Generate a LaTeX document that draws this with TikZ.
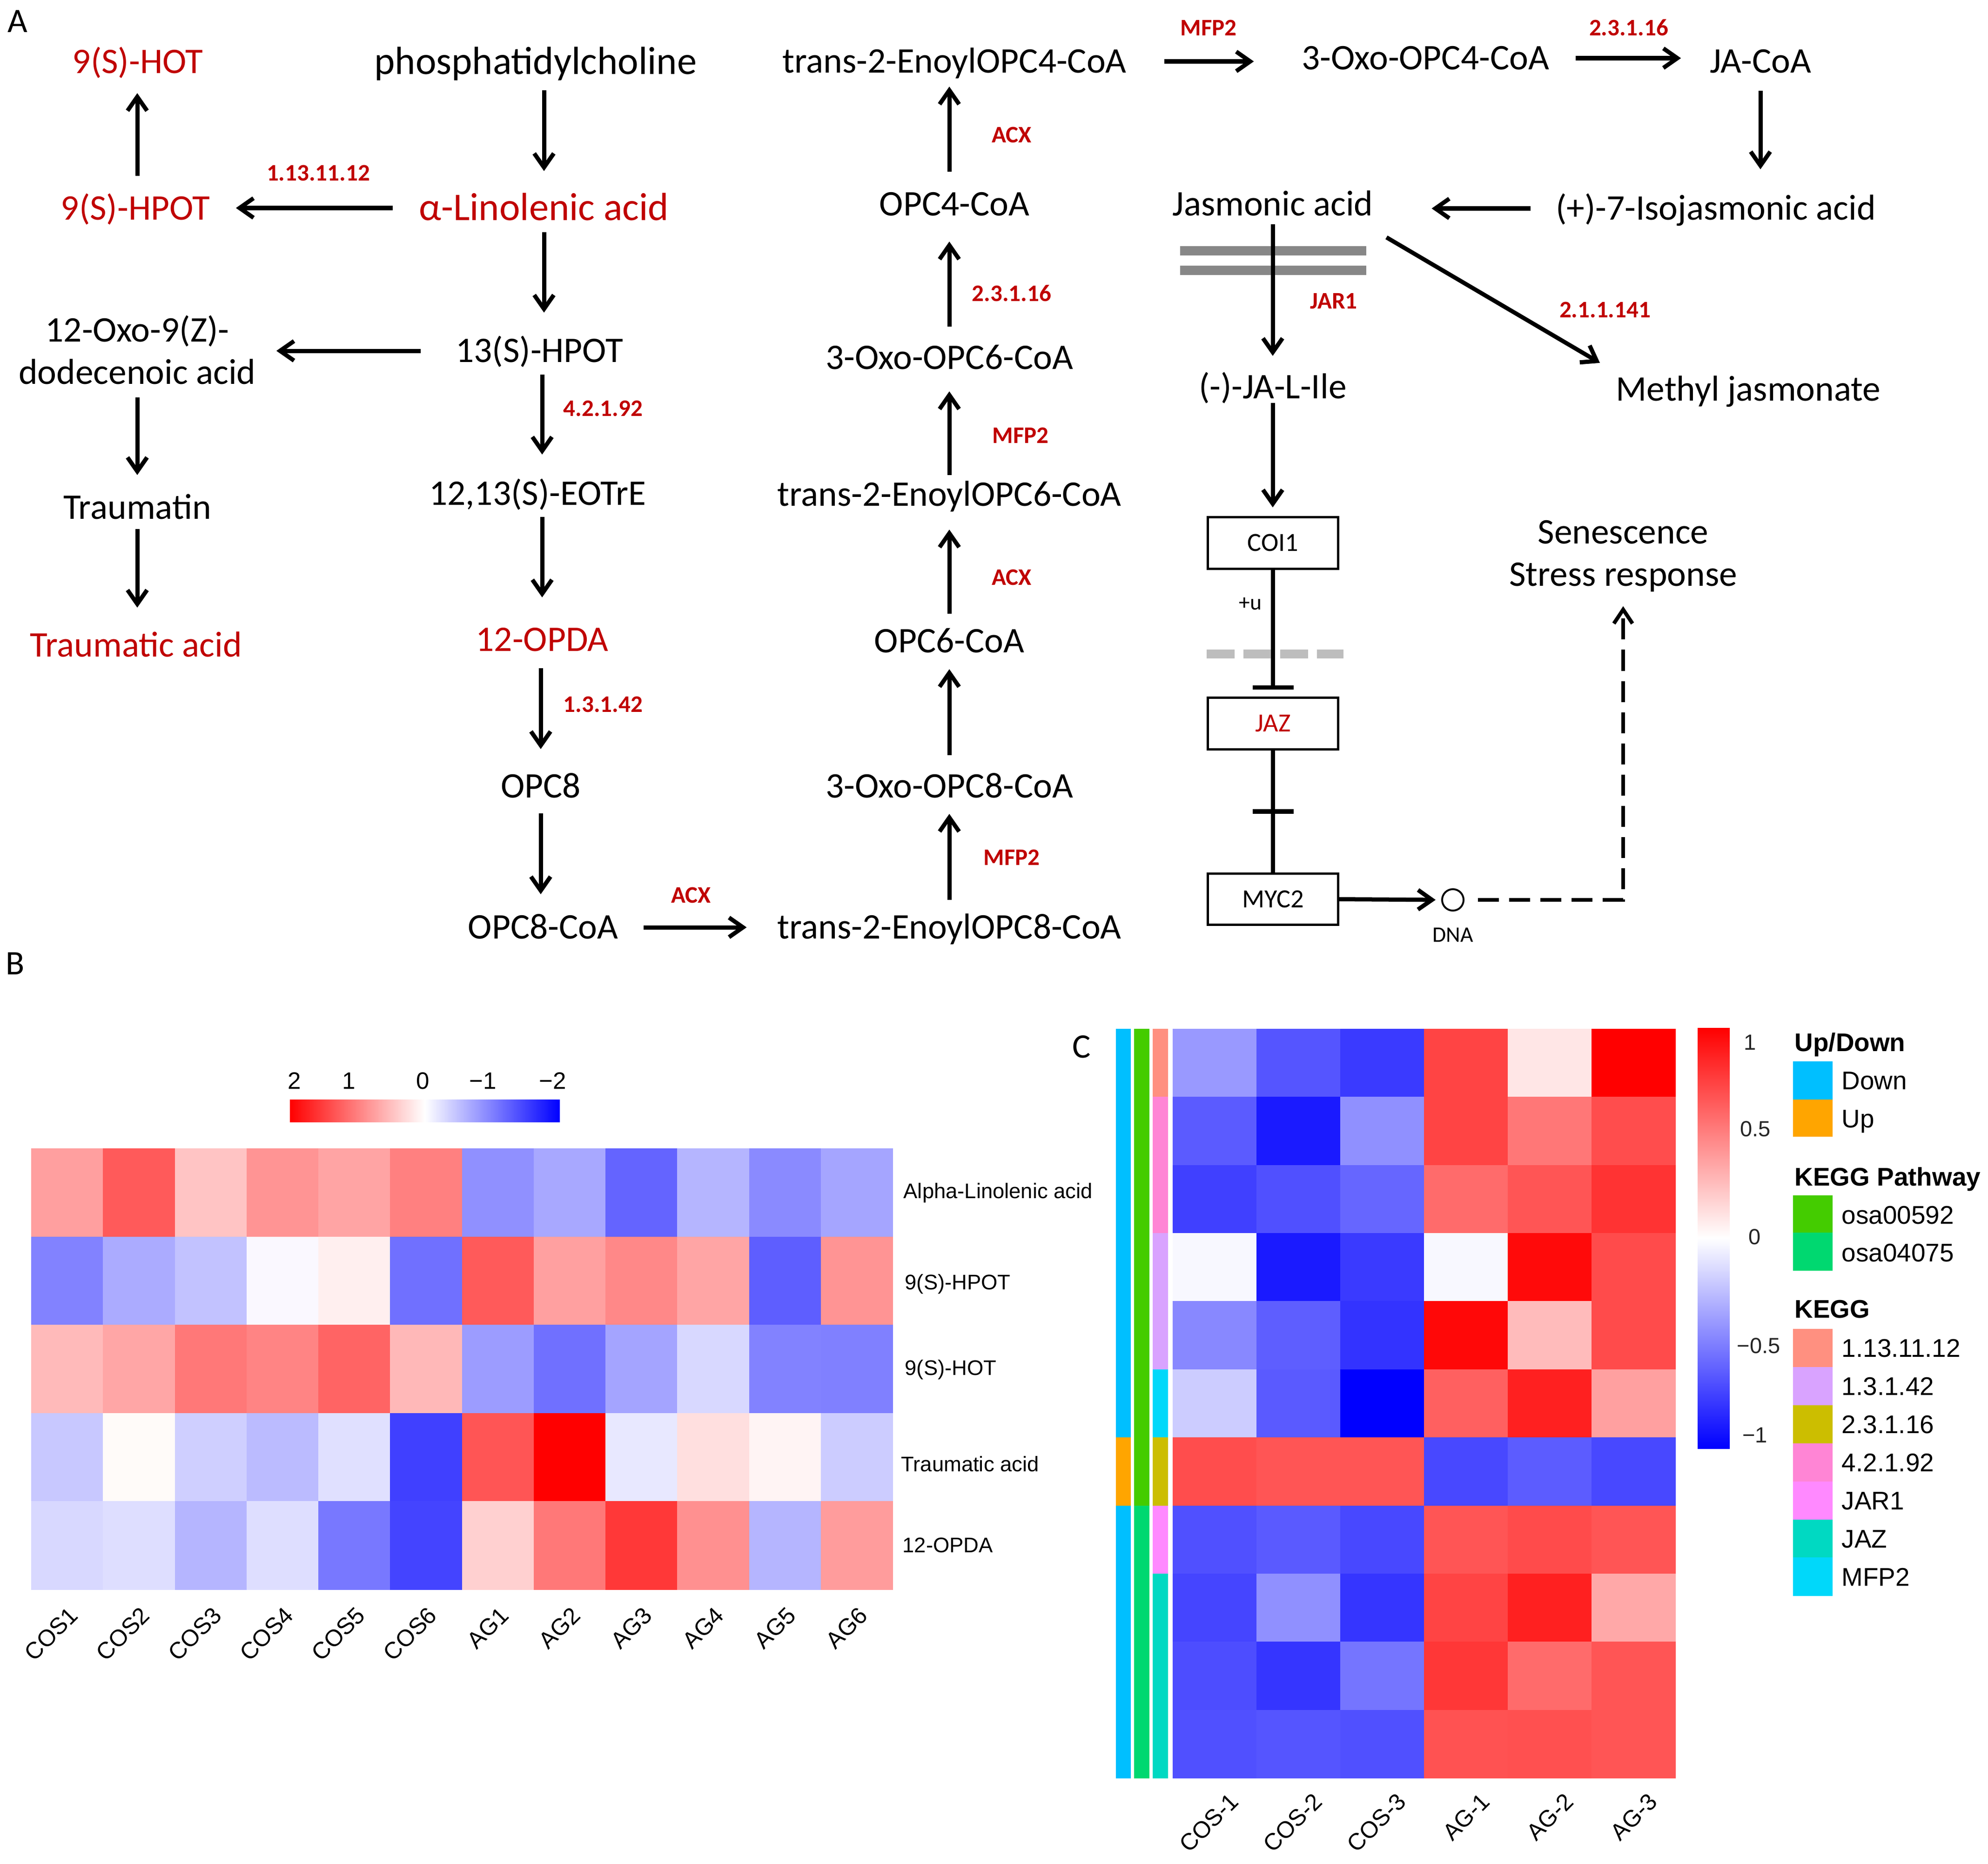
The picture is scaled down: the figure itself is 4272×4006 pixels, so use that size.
\documentclass[tikz,border=0pt]{standalone}
\usepackage{fontspec}
\setmainfont{Carlito}
\newfontfamily\hv{Liberation Sans}
\usetikzlibrary{arrows.meta,calc}
\definecolor{pr}{HTML}{C00000}
\definecolor{barg}{HTML}{878787}
\definecolor{dashg}{HTML}{BDBDBD}
\tikzset{
  ptxt/.style={inner sep=0pt, text height=13.9pt, text depth=0pt, font=\fontsize{22pt}{26pt}\selectfont},
  pbig/.style={inner sep=0pt, text height=15.17pt, text depth=0pt, font=\fontsize{24pt}{28pt}\selectfont},
  ptab/.style={inner sep=0pt, font=\fontsize{22pt}{25.9pt}\selectfont},
  redt/.style={text=pr},
  enz/.style={inner sep=0pt, text height=9.2pt, text depth=0pt, text=pr, font=\bfseries\fontsize{14.5pt}{17pt}\selectfont},
  panel/.style={inner sep=0pt, text height=13.3pt, text depth=0pt, font=\fontsize{21pt}{25pt}\selectfont},
  arr/.style={line width=0.9mm, -{Straight Barb[length=3mm, width=4.2mm]}},
  darr/.style={line width=0.8mm, dash pattern=on 4.5mm off 2.2mm, -{Straight Barb[length=3mm, width=4mm]}},
  conn/.style={line width=0.9mm},
  inh/.style={line width=0.9mm, -{Bar[width=8.8mm]}},
  gbox/.style={draw, line width=0.5mm, minimum width=28mm, minimum height=11mm, inner sep=0pt, text height=10.1pt, text depth=0pt, font=\fontsize{16pt}{19pt}\selectfont},
  plab/.style={inner sep=0pt, text height=8.5pt, text depth=0pt, font=\fontsize{13.5pt}{16pt}\selectfont},
  rowlab/.style={inner sep=0pt, anchor=west, text height=9.24pt, text depth=0pt, font=\hv\fontsize{12.9pt}{15pt}\selectfont},
  collab/.style={inner sep=0pt, anchor=east, rotate=45, text height=10.24pt, text depth=0pt, font=\hv\fontsize{14.3pt}{17pt}\selectfont},
  cbl/.style={inner sep=0pt, text height=10.38pt, text depth=0pt, font=\hv\fontsize{14.5pt}{17pt}\selectfont},
  cbl2/.style={inner sep=0pt, text height=9.6pt, text depth=0pt, text=black!85, font=\hv\fontsize{13.4pt}{16pt}\selectfont},
  legt/.style={inner sep=0pt, anchor=west, text height=11.17pt, text depth=0pt, font=\hv\bfseries\fontsize{15.6pt}{18pt}\selectfont},
  legi/.style={inner sep=0pt, anchor=west, text height=11.17pt, text depth=0pt, font=\hv\fontsize{15.6pt}{18pt}\selectfont},
}
\begin{document}
\begin{tikzpicture}[x=0.01cm,y=-0.01cm]
\fill[white] (0,0) rectangle (4272,4006);
\useasboundingbox (0,0) rectangle (4272,4006);

% ---------------- Panel A ----------------
\node[panel] (lA) at (38,46) {A};
\node[ptxt,redt] (hot) at (296,133) {9(S)-HOT};
\node[pbig] (phos) at (1151,133) {phosphatidylcholine};
\node[ptxt] (e4c) at (2051,132) {trans-2-EnoylOPC4-CoA};
\node[ptxt] (o4c) at (3063,125) {3-Oxo-OPC4-CoA};
\node[ptxt] (jacoa) at (3783,132) {JA-CoA};
\node[ptxt,redt] (hpot9) at (291,448) {9(S)-HPOT};
\node[pbig,redt] (alin) at (1169,447) {α-Linolenic acid};
\node[ptxt] (c4c) at (2051,439) {OPC4-CoA};
\node[ptxt] (ja) at (2735,439) {Jasmonic acid};
\node[ptxt] (iso) at (3687,448) {(+)-7-Isojasmonic acid};
\node[ptab] (oxo) at (295,762) {\begin{tabular}{@{}c@{}}12-Oxo-9(Z)-\\dodecenoic acid\end{tabular}};
\node[ptxt] (hpot13) at (1159,754) {13(S)-HPOT};
\node[ptxt] (o6c) at (2040,769) {3-Oxo-OPC6-CoA};
\node[ptxt] (jaile) at (2735,832) {(-)-JA-L-Ile};
\node[ptxt] (meja) at (3757,837) {Methyl jasmonate};
\node[ptxt] (traumatin) at (295,1091) {Traumatin};
\node[ptxt] (eotre) at (1155,1061) {12,13(S)-EOTrE};
\node[ptxt] (e6c) at (2040,1063) {trans-2-EnoylOPC6-CoA};
\node[ptab] (sen) at (3488,1196) {\begin{tabular}{@{}c@{}}Senescence\\Stress response\end{tabular}};
\node[ptxt,redt] (opda) at (1165,1375) {12-OPDA};
\node[ptxt] (c6c) at (2040,1378) {OPC6-CoA};
\node[ptxt,redt] (trac) at (292,1387) {Traumatic acid};
\node[ptxt] (opc8) at (1162,1690) {OPC8};
\node[ptxt] (o8c) at (2040,1690) {3-Oxo-OPC8-CoA};
\node[ptxt] (c8c) at (1167,1993) {OPC8-CoA};
\node[ptxt] (e8c) at (2040,1993) {trans-2-EnoylOPC8-CoA};
\node[gbox] (coi) at (2735.5,1167) {COI1};
\node[gbox,text=pr] (jaz) at (2735.5,1555) {JAZ};
\node[gbox] (myc) at (2735.5,1932.5) {MYC2};
\node[circle, draw, line width=0.4mm, minimum size=4.6mm, inner sep=0pt] (dna) at (3122,1934) {};
\node[plab] (dnal) at (3122,2010) {DNA};

% enzyme labels
\node[enz] (z1) at (684,372) {1.13.11.12};
\node[enz] (z2) at (1296,878) {4.2.1.92};
\node[enz] (z3) at (1296,1514) {1.3.1.42};
\node[enz] (z4) at (1485,1924) {ACX};
\node[enz] (z5) at (2174,1843) {MFP2};
\node[enz] (z6) at (2174,1241) {ACX};
\node[enz] (z7) at (2193,936) {MFP2};
\node[enz] (z8) at (2174,631) {2.3.1.16};
\node[enz] (z9) at (2174,290) {ACX};
\node[enz] (z10) at (2597,60) {MFP2};
\node[enz] (z11) at (3500,60) {2.3.1.16};
\node[enz] (z12) at (2866,647) {JAR1};
\node[enz] (z13) at (3449,666) {2.1.1.141};

% grey marks
\draw[barg, line width=2mm] (2536,539) -- (2936,539);
\draw[barg, line width=2mm] (2536,581) -- (2936,581);
\draw[dashg, line width=1.9mm, dash pattern=on 6mm off 1.9mm] (2593,1405) -- (2887,1405);

% left column arrows
\draw[arr, shorten <=3.4mm, shorten >=5.2mm] (phos.south -| alin.north) -- (alin.north);
\draw[arr, shorten <=2.5mm, shorten >=5.7mm] (alin.south) -- (alin.south |- hpot13.north);
\draw[arr, shorten <=2.6mm, shorten >=5.9mm] (hpot13.south -| opda.north) -- (eotre.north -| opda.north);
\draw[arr, shorten <=2.5mm, shorten >=6.6mm] (eotre.south -| opda.north) -- (opda.north);
\draw[arr, shorten <=3.6mm, shorten >=5.5mm] (opda.south -| opc8.north) -- (opc8.north);
\draw[arr, shorten <=3.3mm, shorten >=4.6mm] (opc8.south) -- (opc8.south |- c8c.north);
\draw[arr, shorten <=4.5mm, shorten >=4.2mm] (hpot9.north -| oxo.north) -- (hot.south -| oxo.north);
\draw[arr, shorten >=4.5mm] (oxo.south) -- (oxo.south |- traumatin.north);
\draw[arr, shorten <=2.1mm, shorten >=5.6mm] (traumatin.south) -- (traumatin.south |- trac.north);
\draw[arr, shorten <=5.6mm, shorten >=5.5mm] (alin.west) -- (alin.west -| hpot9.east);
\draw[arr, shorten <=7.4mm, shorten >=4.35mm] (hpot13.west) -- (hpot13.west -| oxo.east);
\draw[arr, shorten <=5.4mm, shorten >=6.5mm] (c8c.east) -- (c8c.east -| e8c.west);

% middle column arrows
\draw[arr, shorten <=3.4mm, shorten >=3.4mm] (e8c.north) -- (e8c.north |- o8c.south);
\draw[arr, shorten <=4.2mm, shorten >=3.5mm] (o8c.north) -- (o8c.north |- c6c.south);
\draw[arr, shorten <=3.4mm, shorten >=5mm] (c6c.north) -- (c6c.north |- e6c.south);
\draw[arr, shorten <=1.7mm, shorten >=4.7mm] (e6c.north) -- (e6c.north |- o6c.south);
\draw[arr, shorten <=4.2mm, shorten >=5.5mm] (o6c.north) -- (o6c.north |- c4c.south);
\draw[arr, shorten <=4.5mm, shorten >=2.9mm] (c4c.north -| o6c.north) -- (e4c.south -| o6c.north);

% top right arrows
\draw[arr, shorten <=8mm, shorten >=10.2mm] (e4c.east) -- (e4c.east -| o4c.west);
\draw[arr, shorten <=5.6mm, shorten >=6.1mm] (o4c.east) -- (o4c.east -| jacoa.west);
\draw[arr, shorten <=3.8mm, shorten >=5.9mm] (jacoa.south) -- (jacoa.south |- iso.north);
\draw[arr, shorten <=5.3mm, shorten >=12.5mm] (iso.west) -- (iso.west -| ja.east);
\draw[arr] ($(ja.south east)+(28,46)$) -- ($(meja.north west)+(-34,-32)$);
\draw[arr, shorten <=1.8mm, shorten >=4.2mm] (ja.south) -- (ja.south |- jaile.north);
\draw[arr, shorten <=0.9mm, shorten >=1.9mm] (jaile.south) -- (jaile.south |- coi.north);

% signalling
\draw[inh, shorten >=1.5mm] (coi.south) -- (jaz.north) node[plab, pos=0.26, anchor=east, xshift=-2mm] (plusu) {+u};
\draw[conn] (jaz.south) -- (myc.north) node[midway, fill=black, inner sep=0pt, minimum width=8.8mm, minimum height=1mm] (jzbar) {};
\draw[arr, shorten >=1.2mm] (myc.east) -- (dna.west);
\draw[darr, shorten <=2.9mm, shorten >=1.5mm] (dna.east) -- (dna.east -| sen.south) -- (sen.south);

% ---------------- Panel B ----------------
\node[panel] (lB) at (33,2071) {B};
\shade[left color=red, right color=blue, middle color=white] (623,2363) rectangle (1203,2411);
\node[cbl] (bk1) at (633,2322) {2};
\node[cbl] (bk2) at (750,2322) {1};
\node[cbl] (bk3) at (909,2322) {0};
\node[cbl] (bk4) at (1038,2322) {−1};
\node[cbl] (bk5) at (1188,2322) {−2};
\foreach \rw [count=\r from 0] in {
 {FF9F9F,FF5A5A,FFC4C4,FF9494,FFA4A4,FF8080,9090FF,A8A8FF,6464FF,B5B5FF,8A8AFF,A5A5FF},
 {8282FF,ABABFF,C2C2FF,FAF8FF,FFEFEF,7070FF,FF5A5A,FFA0A0,FF8888,FFA5A5,5E5EFF,FF9494},
 {FFBABA,FFA6A6,FF7878,FF8484,FF6464,FFB8B8,9C9CFF,7070FF,A4A4FF,D8D8FF,8282FF,8080FF},
 {C8C8FF,FFFBF9,CFCFFF,BBBBFF,E0E0FF,4040FF,FF5555,FF0000,E8E8FF,FFDFDF,FFF4F4,CCCCFF},
 {D8D8FF,DEDEFF,B5B5FF,DEDEFF,7878FF,4444FF,FFD0D0,FF7878,FF3838,FF9090,B5B5FF,FF9C9C}} {
  \foreach \c [count=\k from 0] in \rw {
    \definecolor{cc}{HTML}{\c}
    \fill[cc] (67+\k*154.25,2468+\r*189.6) rectangle ++(154.9,190.2);
  }
}
\node[rowlab] (rl1) at (1941,2559) {Alpha-Linolenic acid};
\node[rowlab] (rl2) at (1944,2755) {9(S)-HPOT};
\node[rowlab] (rl3) at (1944,2939) {9(S)-HOT};
\node[rowlab] (rl4) at (1936,3146) {Traumatic acid};
\node[rowlab] (rl5) at (1939,3320) {12-OPDA};
\foreach \n [count=\i from 0] in {COS1,COS2,COS3,COS4,COS5,COS6,AG1,AG2,AG3,AG4,AG5,AG6}
  \node[collab] (bc\i) at (158.1+\i*154.25,3462) {\n};

% ---------------- Panel C ----------------
\node[panel] (lC) at (2324,2250) {C};
\foreach \rw [count=\r from 0] in {
 {9999FF,5555FF,3A3AFF,FF4444,FFE6E6,FF0000},
 {5B5BFF,1A1AFF,9090FF,FF4444,FF7777,FF4D4D},
 {4040FF,5050FF,6666FF,FF6B6B,FF5555,FF3333},
 {F8F8FF,1A1AFF,3A3AFF,F8F8FF,FF0A0A,FF4B4B},
 {8888FF,5E5EFF,3333FF,FF0808,FFBBBB,FF4B4B},
 {CCCCFF,5A5AFF,0000FF,FF6060,FF2020,FFA0A0},
 {FF4D4D,FF5555,FF5555,4848FF,5C5CFF,4848FF},
 {5050FF,5A5AFF,4848FF,FF5555,FF4B4B,FF5555},
 {4545FF,9090FF,3535FF,FF4444,FF2020,FFA8A8},
 {4D4DFF,3535FF,7575FF,FF3737,FF6B6B,FF5555},
 {5050FF,5555FF,5050FF,FF5252,FF5050,FF5555}} {
  \foreach \c [count=\k from 0] in \rw {
    \definecolor{cc}{HTML}{\c}
    \fill[cc] (2520+\k*180,2211+\r*146.36) rectangle ++(180.6,146.9);
  }
}
\foreach \c [count=\r from 0] in {00BFFF,00BFFF,00BFFF,00BFFF,00BFFF,00BFFF,FFA500,00BFFF,00BFFF,00BFFF,00BFFF} {
  \definecolor{cc}{HTML}{\c}
  \fill[cc] (2398,2211+\r*146.36) rectangle ++(32,146.9);
}
\foreach \c [count=\r from 0] in {44CC00,44CC00,44CC00,44CC00,44CC00,44CC00,44CC00,00D870,00D870,00D870,00D870} {
  \definecolor{cc}{HTML}{\c}
  \fill[cc] (2437,2211+\r*146.36) rectangle ++(33,146.9);
}
\foreach \c [count=\r from 0] in {FF9080,FF85D5,FF85D5,D9A3FF,D9A3FF,00D8FA,CCBE00,FF89FF,00D9C2,00D9C2,00D9C2} {
  \definecolor{cc}{HTML}{\c}
  \fill[cc] (2477,2211+\r*146.36) rectangle ++(33,146.9);
}
\foreach \n [count=\i from 0] in {COS-1,COS-2,COS-3,AG-1,AG-2,AG-3}
  \node[collab] (cc\i) at (2652+\i*180,3862) {\n};

% colour key C
\shade[top color=red, bottom color=blue, middle color=white] (3648,2209) rectangle (3717,3113);
\node[cbl2] (ck1) at (3761,2240) {1};
\node[cbl2] (ck2) at (3772,2426) {0.5};
\node[cbl2] (ck3) at (3771,2658) {0};
\node[cbl2] (ck4) at (3779,2892) {−0.5};
\node[cbl2] (ck5) at (3771,3084) {−1};

% legends
\node[legt] (lg1) at (3856,2240) {Up/Down};
\definecolor{cdown}{HTML}{00BFFF}\definecolor{cup}{HTML}{FFA500}
\fill[cdown] (3853,2281) rectangle (3938,2363);
\fill[cup] (3853,2363) rectangle (3938,2443);
\node[legi] (li1) at (3957,2322) {Down};
\node[legi] (li2) at (3957,2404) {Up};
\node[legt] (lg2) at (3856,2529) {KEGG Pathway};
\definecolor{cpa}{HTML}{44CC00}\definecolor{cpb}{HTML}{00D870}
\fill[cpa] (3853,2569) rectangle (3938,2649);
\fill[cpb] (3853,2649) rectangle (3938,2731);
\node[legi] (li3) at (3957,2611) {osa00592};
\node[legi] (li4) at (3957,2692) {osa04075};
\node[legt] (lg3) at (3856,2813) {KEGG};
\foreach \c/\t [count=\i from 0] in {FF9080/1.13.11.12,D9A3FF/1.3.1.42,CCBE00/2.3.1.16,FF85D5/4.2.1.92,FF89FF/JAR1,00D9C2/JAZ,00D8FA/MFP2} {
  \definecolor{cc}{HTML}{\c}
  \fill[cc] (3853,2856+\i*81.9) rectangle ++(85,82.4);
  \node[legi] (lk\i) at (3957,2897+\i*81.9) {\t};
}
\end{tikzpicture}
\end{document}
